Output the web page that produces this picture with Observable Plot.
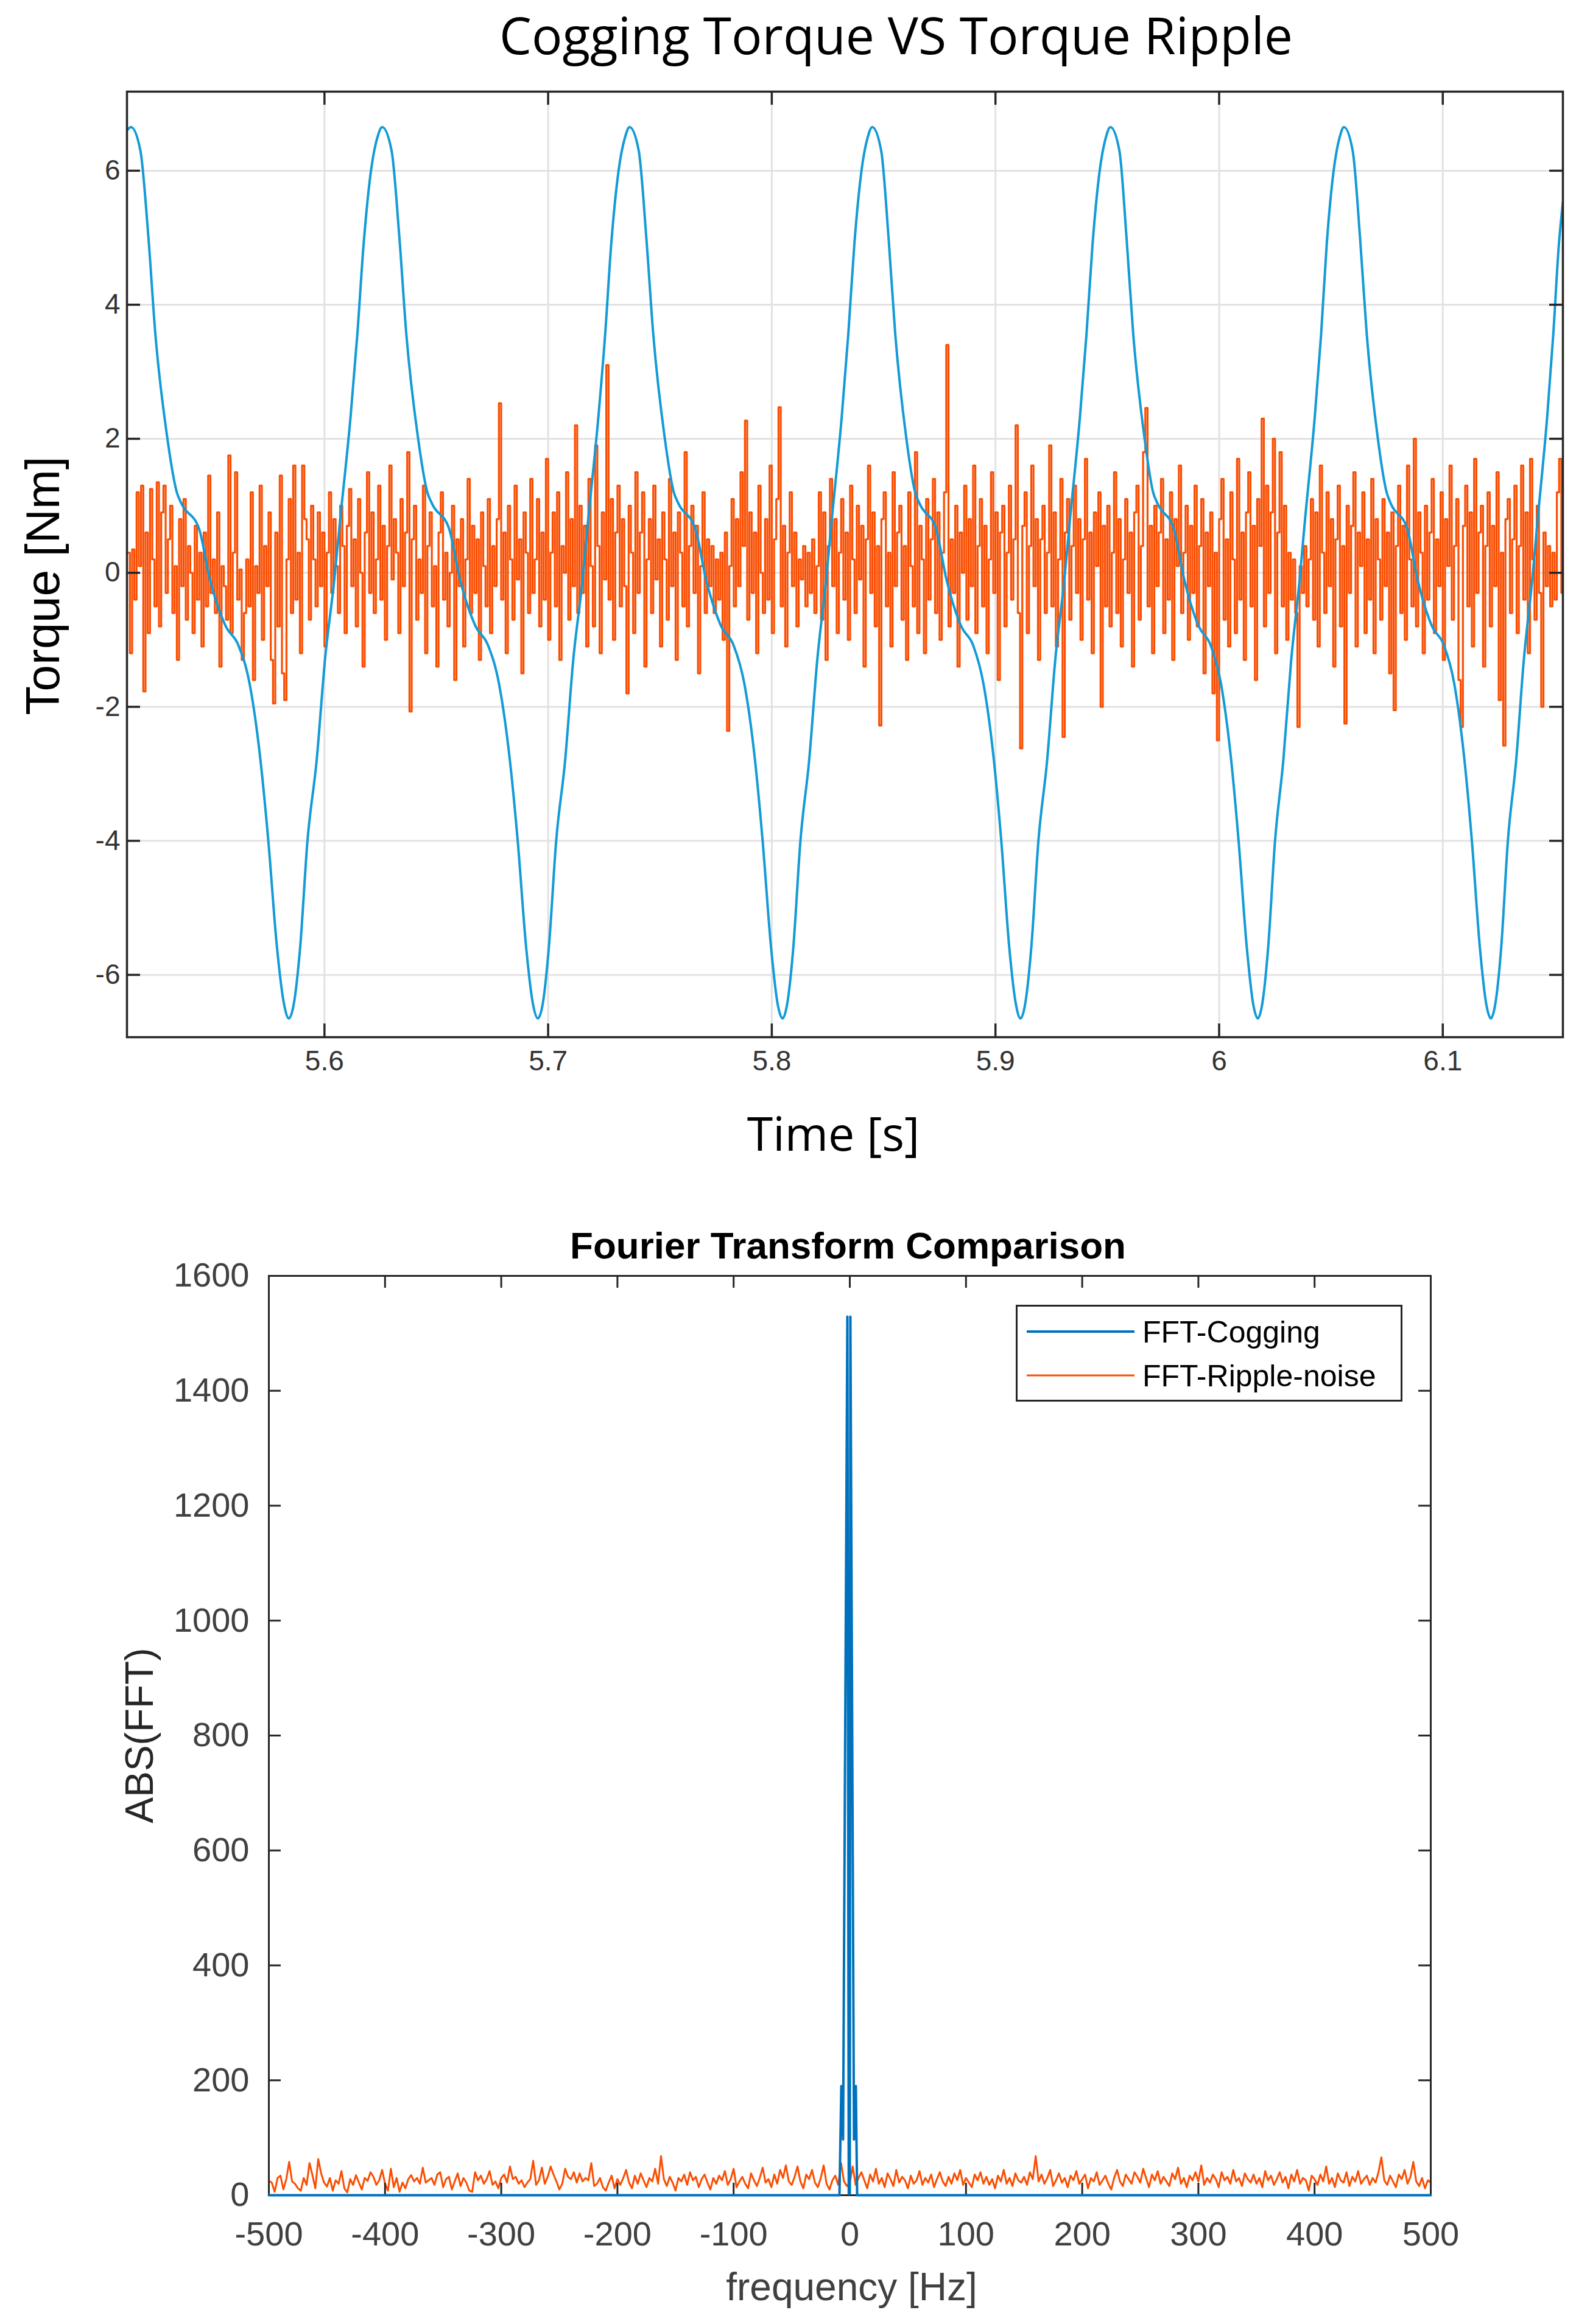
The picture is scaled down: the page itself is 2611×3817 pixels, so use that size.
<!DOCTYPE html>
<html><head><meta charset="utf-8">
<script src="https://cdn.jsdelivr.net/npm/d3@7"></script>
<script src="https://cdn.jsdelivr.net/npm/@observablehq/plot@0.6"></script>
<style>
html,body{margin:0;padding:0;background:#fff;}
#page{position:relative;width:2611px;height:3817px;overflow:hidden;background:#fff;}
#top{position:absolute;left:0;top:0;}
#bottom{position:absolute;left:0;top:1960px;}
#legend{position:absolute;left:1668px;top:2143px;}
</style></head>
<body><div id="page"><div id="top"></div><div id="bottom"></div><div id="legend"></div></div>
<script>
// ---------- Top chart data ----------
const torqueXDomain = [5.5117, 6.1537];
const torqueYDomain = [-6.93, 7.18];
const torqueXTicks = [5.6, 5.7, 5.8, 5.9, 6, 6.1];
const torqueXTickLabels = ["5.6", "5.7", "5.8", "5.9", "6", "6.1"];
const torqueYTicks = [-6, -4, -2, 0, 2, 4, 6];
const torqueYTickLabels = ["-6", "-4", "-2", "0", "2", "4", "6"];

const coggingTime = [
5.5117, 5.5135,
5.5177, 5.5213, 5.5244, 5.5297, 5.5340, 5.5361, 5.5439, 5.5488, 5.5559, 5.5615, 5.5665, 5.5714, 5.5749, 5.5788, 5.5820, 5.5841,
5.5862, 5.5891, 5.5924, 5.5965, 5.6002, 5.6044, 5.6068, 5.6117, 5.6147, 5.6175, 5.6208, 5.6237, 5.6258,
5.6300, 5.6335, 5.6366, 5.6418, 5.6460, 5.6481, 5.6557, 5.6606, 5.6676, 5.6731, 5.6780, 5.6829, 5.6864, 5.6902, 5.6933, 5.6954,
5.6975, 5.7003, 5.7036, 5.7076, 5.7112, 5.7154, 5.7177, 5.7225, 5.7255, 5.7282, 5.7315, 5.7344, 5.7364,
5.7405, 5.7439, 5.7470, 5.7521, 5.7562, 5.7583, 5.7658, 5.7706, 5.7774, 5.7829, 5.7877, 5.7925, 5.7959, 5.7997, 5.8027, 5.8048,
5.8068, 5.8096, 5.8128, 5.8167, 5.8203, 5.8243, 5.8266, 5.8313, 5.8342, 5.8369, 5.8401, 5.8429, 5.8449,
5.8489, 5.8522, 5.8552, 5.8601, 5.8641, 5.8661, 5.8734, 5.8781, 5.8847, 5.8900, 5.8946, 5.8993, 5.9026, 5.9062, 5.9092, 5.9112,
5.9132, 5.9160, 5.9192, 5.9231, 5.9267, 5.9308, 5.9331, 5.9378, 5.9407, 5.9434, 5.9466, 5.9494, 5.9514,
5.9554, 5.9586, 5.9616, 5.9666, 5.9705, 5.9725, 5.9797, 5.9844, 5.9909, 5.9962, 6.0008, 6.0054, 6.0087, 6.0124, 6.0153, 6.0173,
6.0192, 6.0219, 6.0250, 6.0287, 6.0322, 6.0360, 6.0382, 6.0428, 6.0456, 6.0481, 6.0512, 6.0539, 6.0558,
6.0597, 6.0630, 6.0660, 6.0709, 6.0749, 6.0768, 6.0841, 6.0887, 6.0952, 6.1005, 6.1051, 6.1097, 6.1130, 6.1166, 6.1195, 6.1215,
6.1234, 6.1261, 6.1291, 6.1328, 6.1362, 6.1400, 6.1422, 6.1467, 6.1494, 6.1519, 6.1537
];
const coggingTorque = [
6.6, 6.65,
6.3, 5.0, 3.56, 2.02, 1.2, 1.03, 0.66, -0.1, -0.8, -1.08, -1.65, -2.8, -4.0, -5.6, -6.45, -6.65,
-6.45, -5.6, -4.0, -2.8, -1.31, -0.1, 0.72, 2.34, 3.56, 4.9, 6.0, 6.5, 6.65,
6.3, 5.0, 3.56, 2.02, 1.2, 1.03, 0.66, -0.1, -0.8, -1.08, -1.65, -2.8, -4.0, -5.6, -6.45, -6.65,
-6.45, -5.6, -4.0, -2.8, -1.31, -0.1, 0.72, 2.34, 3.56, 4.9, 6.0, 6.5, 6.65,
6.3, 5.0, 3.56, 2.02, 1.2, 1.03, 0.66, -0.1, -0.8, -1.08, -1.65, -2.8, -4.0, -5.6, -6.45, -6.65,
-6.45, -5.6, -4.0, -2.8, -1.31, -0.1, 0.72, 2.34, 3.56, 4.9, 6.0, 6.5, 6.65,
6.3, 5.0, 3.56, 2.02, 1.2, 1.03, 0.66, -0.1, -0.8, -1.08, -1.65, -2.8, -4.0, -5.6, -6.45, -6.65,
-6.45, -5.6, -4.0, -2.8, -1.31, -0.1, 0.72, 2.34, 3.56, 4.9, 6.0, 6.5, 6.65,
6.3, 5.0, 3.56, 2.02, 1.2, 1.03, 0.66, -0.1, -0.8, -1.08, -1.65, -2.8, -4.0, -5.6, -6.45, -6.65,
-6.45, -5.6, -4.0, -2.8, -1.31, -0.1, 0.72, 2.34, 3.56, 4.9, 6.0, 6.5, 6.65,
6.3, 5.0, 3.56, 2.02, 1.2, 1.03, 0.66, -0.1, -0.8, -1.08, -1.65, -2.8, -4.0, -5.6, -6.45, -6.65,
-6.45, -5.6, -4.0, -2.8, -1.31, -0.1, 0.72, 2.34, 3.56, 4.9, 5.53
];

// Torque ripple (orange), 1 ms samples starting at 5.512 s
const rippleStart = 5.512;
const rippleStep = 0.001;
const rippleTorque = [
0.3, -1.2, 0.35, -0.4, 1.2, 0.1, 1.3, -1.77, 0.6, -0.9, 1.25, 0.2, -0.5, 1.35, -0.8, 0.9, 1.3, -0.3, 0.5, 1.0,
-0.6, 0.1, -1.3, 0.8, -0.2, 1.1, -0.7, 0.4, 0.0, -0.9, 0.7, -0.4, 0.3, -1.1, 0.6, -0.5, 1.45, -0.3, 0.2, -0.6,
0.9, -1.4, 0.1, -0.2, -0.7, 1.75, -0.9, 0.3, 1.5, -0.4, 0.05, -1.3, -0.6, 0.2, -0.5, 1.2, -1.6, 0.1, -0.3, 1.3,
-1.0, 0.4, -0.2, 0.9, -1.3, -1.95, 0.6, -0.8, 1.45, -1.5, -1.9, 0.2, 1.1, -0.6, 1.6, -0.4, 0.3, -1.2, 1.6, 0.8,
0.5, -0.7, 1.0, 0.2, -0.5, 0.9, -0.2, 0.6, -1.1, 0.3, 1.2, -0.3, 0.8, 0.1, -0.6, 1.0, 0.4, -0.9, 0.7, 1.25,
-0.2, 0.5, -0.8, 1.1, 0.0, -1.4, 0.6, 1.5, -0.3, 0.9, -0.6, 0.2, 1.3, -0.4, 0.7, -1.0, 0.4, 1.6, -0.1, 0.8,
0.3, -0.9, 1.1, -0.2, 0.6, 1.8, -2.07, 0.5, 1.0, -0.7, 0.2, -0.3, 1.3, -1.2, 0.4, 0.9, -0.5, 0.1, -1.4, 0.6,
1.2, -0.4, 0.3, -0.8, 0.0, 1.0, -1.6, 0.5, -0.2, 0.8, -1.1, 0.2, 1.4, -0.6, 0.7, -0.3, 0.5, -1.3, 0.9, 0.1,
-0.5, 1.1, -0.9, 0.4, -0.2, 0.8, 2.53, -0.4, 0.6, -1.2, 1.0, 0.2, -0.7, 1.3, -0.1, 0.5, -1.5, 0.9, 0.3, -0.6,
1.4, -0.3, 0.2, 1.1, -0.8, 0.6, -0.4, 1.7, -1.0, 0.3, 0.9, -0.5, 1.2, -1.3, 0.4, 0.0, 1.5, -0.7, 0.8, -0.2,
2.2, -0.6, 1.0, -0.3, 0.7, -1.1, 1.4, 0.1, -0.8, 1.9, 0.4, -1.2, 0.9, -0.1, 3.1, -0.4, 1.1, -1.0, 0.6, 1.3,
-0.5, 0.8, -0.2, -1.8, 1.0, 0.3, -0.9, 1.5, -0.3, 0.6, 1.2, -1.4, 0.2, 0.8, -0.6, 1.3, -0.1, 0.5, -1.1, 0.9,
0.2, -0.7, 1.4, -0.2, 0.6, -1.3, 0.9, 0.3, -0.5, 1.8, -0.8, 0.4, 1.0, -0.3, 0.7, -1.5, 0.1, 1.2, -0.6, 0.5,
-0.2, 0.4, -0.6, 0.2, -0.4, 0.3, -1.0, 0.6, -2.36, 0.1, 1.1, -0.5, 0.8, -0.2, 1.5, 0.4, 2.27, -0.7, 0.9, -0.3,
0.6, -1.2, 1.3, 0.0, -0.6, 0.8, -0.4, 1.6, -0.9, 0.5, 1.1, 2.47, -0.5, 0.7, -1.1, 0.3, 1.2, -0.2, 0.6, -0.8,
0.2, -0.1, 0.4, -0.5, 0.3, -0.3, 0.5, -0.6, 0.1, 1.2, -0.7, 0.9, -1.3, 0.4, 1.4, -0.2, 0.8, -0.9, 0.3, 1.1,
-0.4, 0.6, -1.0, 1.3, 0.2, -0.6, 1.0, -0.1, 0.7, -1.4, 0.5, 1.6, -0.3, 0.9, -0.8, 0.4, -2.28, 0.8, 1.2, -0.5,
0.3, -1.1, 1.5, -0.2, 0.6, 1.0, -0.7, 0.4, -1.3, 1.2, 0.1, -0.5, 1.8, -0.9, 0.7, 0.2, -1.2, 1.1, -0.4, 0.5,
1.4, -0.6, 0.9, -1.0, 0.3, 1.2, 3.4, -0.8, 0.5, -0.3, 1.0, -1.4, 0.6, 0.0, 1.3, -0.7, 0.8, -0.2, 1.6, -0.9,
0.4, 1.1, -0.5, 0.7, -1.2, 0.2, 1.5, -0.3, 0.9, -1.6, 0.6, 1.0, -0.8, 0.3, 1.3, -0.4, 0.5, 2.2, -0.6, -2.62,
0.7, 1.2, -0.9, 0.4, 1.6, -0.2, 0.8, -1.3, 0.5, 1.0, -0.6, 0.3, 1.9, -0.5, 0.9, -1.1, 0.2, 1.4, -2.45, 0.6,
1.1, -0.7, 0.4, 1.3, -0.3, 0.8, -1.0, 0.5, 1.7, -0.4, 0.6, -1.2, 0.9, 0.1, 1.2, -2.0, 0.7, -0.5, 1.0, -0.8,
0.3, 1.5, -0.6, 0.8, -1.1, 0.2, 1.1, -0.3, 0.6, -1.4, 0.9, 1.3, -0.7, 0.4, 1.8, 2.46, -0.5, 0.7, -1.2, 1.0,
-0.2, 0.6, 1.4, -0.9, 0.5, -0.4, 1.2, -1.3, 0.8, 0.1, 1.6, -0.6, 0.3, 1.0, -1.0, 0.7, -0.3, 1.3, -0.8, 0.4,
1.1, -1.5, 0.6, -0.2, 0.9, -1.8, 0.3, -2.5, 0.8, 1.4, -0.7, 0.5, -1.1, 1.2, 0.2, -0.9, 1.7, -0.4, 0.6, -1.3,
0.9, 1.5, -0.5, 0.7, -1.6, 1.1, 0.4, 2.3, -0.8, 1.3, -0.3, 0.9, 2.0, -1.2, 0.6, 1.8, -0.5, 1.0, -1.0, 0.3,
-0.4, 0.2, -0.6, -2.3, 0.1, -0.3, 0.4, -0.5, 0.2, 1.1, -0.7, 0.9, -1.1, 1.6, 0.3, -0.6, 1.2, -0.2, 0.8, -1.4,
0.5, 1.3, -0.8, 0.4, -2.25, 1.0, -0.3, 0.7, 1.5, -1.1, 0.6, 0.1, 1.2, -0.9, 0.5, -0.4, 1.4, -1.2, 0.8, 0.2,
-0.7, 1.1, -0.2, 0.6, -1.5, 0.9, -2.05, 0.4, 1.3, -0.6, 0.7, -1.0, 1.6, 0.2, -0.5, 2.0, -0.8, 0.9, 0.3, -1.2,
1.0, -0.4, 0.6, 1.4, -0.9, 0.5, -0.2, 1.2, -1.3, 0.8, 0.1, 1.6, -0.7, 0.4, 1.1, -1.6, -2.3, 0.7, 1.3, -0.5,
0.9, -1.1, 1.7, -0.3, 0.6, 1.0, -1.4, 0.4, 1.2, -0.8, 0.7, -0.2, 1.5, -1.9, 0.3, -2.58, 0.8, 1.1, -0.6, 0.5,
1.3, -0.9, 0.4, 1.6, -0.4, 0.9, -1.2, 1.7, 0.2, -0.7, 1.0, -0.3, -2.0, 0.6, -0.2, 0.4, -0.5, 0.3, -0.4, 1.2,
1.7, -0.3
];

// ---------- Bottom chart data ----------
const fftXDomain = [-500, 500];
const fftYDomain = [0, 1600];
const fftXTicks = [-500, -400, -300, -200, -100, 0, 100, 200, 300, 400, 500];
const fftXTickLabels = ["-500", "-400", "-300", "-200", "-100", "0", "100", "200", "300", "400", "500"];
const fftYTicks = [0, 200, 400, 600, 800, 1000, 1200, 1400, 1600];
const fftYTickLabels = ["0", "200", "400", "600", "800", "1000", "1200", "1400", "1600"];

const coggingFftFreq = [-500, -8.9, -7.3, -5.8, -2.1, -0.9, 0.0, 0.5, 3.6, 5.2, 6.3, 500];
const coggingFftAbs  = [0, 0, 190, 97, 1529, 2, 2, 1529, 97, 190, 0, 0];

// Ripple-noise FFT magnitude, 2.5 Hz bins from -500 Hz
const noiseFftStart = -500;
const noiseFftStep = 2.5;
const noiseFftAbs = [
25, 22, 6, 30, 34, 10, 28, 58, 24, 20, 12, 8, 30, 18, 56, 35, 12, 63, 38, 22,
15, 30, 8, 26, 20, 42, 12, 5, 28, 18, 35, 22, 10, 30, 25, 40, 32, 18, 26, 44,
20, 8, 46, 14, 30, 6, 22, 12, 28, 35, 24, 30, 20, 48, 22, 26, 30, 18, 36, 40,
14, 28, 32, 10, 24, 38, 16, 30, 22, 8, 6, 40, 26, 34, 20, 28, 42, 18, 24, 12,
30, 36, 22, 50, 28, 32, 20, 26, 14, 22, 28, 60, 18, 26, 48, 20, 32, 50, 36, 24,
10, 20, 46, 32, 28, 40, 22, 38, 24, 30, 26, 56, 16, 20, 30, 14, 8, 22, 34, 12,
28, 18, 30, 44, 22, 12, 34, 20, 38, 26, 14, 30, 24, 46, 20, 68, 28, 16, 32, 22,
8, 30, 24, 36, 18, 40, 26, 32, 14, 28, 36, 22, 10, 30, 20, 34, 26, 42, 18, 28,
46, 14, 24, 32, 20, 12, 38, 26, 16, 30, 48, 22, 28, 14, 36, 20, 44, 30, 52, 24,
18, 32, 50, 24, 12, 36, 28, 44, 22, 14, 30, 52, 20, 10, 26, 34, 18, 56, 24, 16,
22, 50, 18, 30, 40, 26, 12, 36, 24, 46, 20, 30, 14, 38, 28, 16, 44, 22, 32, 26,
12, 34, 20, 26, 42, 18, 30, 22, 36, 14, 28, 40, 24, 16, 32, 20, 38, 26, 44, 18,
30, 22, 14, 36, 26, 40, 20, 32, 18, 28, 12, 34, 24, 44, 20, 30, 16, 38, 26, 22,
32, 18, 40, 28, 68, 24, 36, 20, 30, 44, 16, 26, 38, 22, 30, 14, 34, 26, 42, 20,
28, 36, 12, 30, 24, 40, 18, 26, 34, 20, 10, 30, 44, 24, 16, 36, 28, 20, 40, 32,
22, 46, 30, 14, 36, 26, 42, 20, 32, 24, 16, 38, 28, 48, 20, 30, 14, 34, 26, 40,
24, 52, 18, 30, 22, 36, 28, 14, 40, 26, 32, 20, 44, 24, 30, 16, 38, 28, 22, 36,
20, 30, 14, 42, 26, 34, 18, 28, 40, 22, 32, 12, 36, 24, 44, 20, 30, 26, 8, 34,
28, 18, 36, 24, 50, 20, 30, 14, 38, 26, 22, 40, 16, 32, 24, 42, 20, 28, 34, 18,
30, 22, 40, 66, 26, 18, 34, 24, 14, 36, 28, 44, 20, 32, 58, 24, 16, 30, 12, 26,
22
];

// ---------- Styles ----------
const BLUE_TOP = "#149bd6";
const BLUE_FFT = "#0072bd";
const ORANGE = "#fa4e02";
const AXIS = "#262626";
const GRID = "#e2e2e2";

// ---------- Build tables ----------
const coggingData = coggingTime.map((t, i) => ({t, v: coggingTorque[i]}));
const rippleData = rippleTorque.map((v, i) => ({t: rippleStart + i * rippleStep, v}));
const cogFftData = coggingFftFreq.map((f, i) => ({f, a: coggingFftAbs[i]}));
const noiseFftData = noiseFftAbs.map((a, i) => ({f: noiseFftStart + i * noiseFftStep, a}));

const centered = {textAnchor: "middle", lineAnchor: "middle"};

// ---------- Top chart ----------
const T = {w: 2611, h: 1960, mt: 150, mb: 257, ml: 208, mr: 45};
const tFW = T.w - T.ml - T.mr, tFH = T.h - T.mt - T.mb, tTick = 22;
const topPlot = Plot.plot({
  width: T.w, height: T.h,
  marginTop: T.mt, marginBottom: T.mb, marginLeft: T.ml, marginRight: T.mr,
  x: {domain: torqueXDomain},
  y: {domain: torqueYDomain},
  style: {background: "white", fontFamily: "Liberation Sans, Arial, sans-serif", color: "#333", overflow: "visible"},
  marks: [
    Plot.gridX(torqueXTicks, {stroke: GRID, strokeOpacity: 1, strokeWidth: 3}),
    Plot.gridY(torqueYTicks, {stroke: GRID, strokeOpacity: 1, strokeWidth: 3}),
    Plot.line(rippleData, {x: "t", y: "v", curve: "step-after", stroke: ORANGE, strokeWidth: 3.2, clip: true}),
    Plot.line(coggingData, {x: "t", y: "v", curve: "monotone-x", stroke: BLUE_TOP, strokeWidth: 4, clip: true}),
    Plot.frame({stroke: AXIS, strokeWidth: 3.5}),
    Plot.ruleX(torqueXTicks, {stroke: AXIS, strokeWidth: 3.5, insetTop: tFH - tTick}),
    Plot.ruleX(torqueXTicks, {stroke: AXIS, strokeWidth: 3.5, insetBottom: tFH - tTick}),
    Plot.ruleY(torqueYTicks, {stroke: AXIS, strokeWidth: 3.5, insetRight: tFW - tTick}),
    Plot.ruleY(torqueYTicks, {stroke: AXIS, strokeWidth: 3.5, insetLeft: tFW - tTick}),
    Plot.axisX(torqueXTicks, {tickSize: 0, tickPadding: 22, fontSize: 46, label: null,
      tickFormat: d => torqueXTickLabels[torqueXTicks.indexOf(d)]}),
    Plot.axisY(torqueYTicks, {tickSize: 0, tickPadding: 11, fontSize: 46, label: null,
      tickFormat: d => torqueYTickLabels[torqueYTicks.indexOf(d)]}),
    Plot.text(["Cogging Torque VS Torque Ripple"], {...centered, text: d => d, frameAnchor: "top", dx: 84, dy: -88,
      fontSize: 84, fontFamily: "Open Sans", fill: "#000"}),
    Plot.text(["Time [s]"], {...centered, text: d => d, frameAnchor: "bottom", dx: -19, dy: 162,
      fontSize: 77, fontFamily: "Open Sans", fill: "#000"}),
    Plot.text(["Torque [Nm]"], {...centered, text: d => d, frameAnchor: "left", rotate: -90, dx: -136, dy: 35,
      fontSize: 78, fontFamily: "Liberation Sans", fill: "#000"})
  ]
});
document.getElementById("top").appendChild(topPlot);

// ---------- Bottom chart ----------
const B = {w: 2611, h: 1857, mt: 135, mb: 212, ml: 441, mr: 262};
const bFW = B.w - B.ml - B.mr, bFH = B.h - B.mt - B.mb, bTick = 20;
const bottomPlot = Plot.plot({
  width: B.w, height: B.h,
  marginTop: B.mt, marginBottom: B.mb, marginLeft: B.ml, marginRight: B.mr,
  x: {domain: fftXDomain},
  y: {domain: fftYDomain},
  style: {background: "white", fontFamily: "Liberation Sans, Arial, sans-serif", color: "#404040", overflow: "visible"},
  marks: [
    Plot.line(noiseFftData, {x: "f", y: "a", stroke: ORANGE, strokeWidth: 3}),
    Plot.frame({stroke: AXIS, strokeWidth: 3}),
    Plot.ruleX(fftXTicks, {stroke: AXIS, strokeWidth: 3, insetTop: bFH - bTick}),
    Plot.ruleX(fftXTicks, {stroke: AXIS, strokeWidth: 3, insetBottom: bFH - bTick}),
    Plot.ruleY(fftYTicks, {stroke: AXIS, strokeWidth: 3, insetRight: bFW - bTick}),
    Plot.ruleY(fftYTicks, {stroke: AXIS, strokeWidth: 3, insetLeft: bFW - bTick}),
    Plot.line(cogFftData, {x: "f", y: "a", stroke: BLUE_FFT, strokeWidth: 4}),
    Plot.axisX(fftXTicks, {tickSize: 0, tickPadding: 43, fontSize: 56, label: null,
      tickFormat: d => fftXTickLabels[fftXTicks.indexOf(d)]}),
    Plot.axisY(fftYTicks, {tickSize: 0, tickPadding: 32, fontSize: 56, label: null,
      tickFormat: d => fftYTickLabels[fftYTicks.indexOf(d)]}),
    Plot.text(["Fourier Transform Comparison"], {...centered, text: d => d, frameAnchor: "top", dx: -3, dy: -48,
      fontSize: 62, fontWeight: "bold", fontFamily: "Liberation Sans", fill: "#000"}),
    Plot.text(["frequency [Hz]"], {...centered, text: d => d, frameAnchor: "bottom", dx: 3, dy: 152,
      fontSize: 64, fontFamily: "Liberation Sans", fill: "#404040"}),
    Plot.text(["ABS(FFT)"], {...centered, text: d => d, frameAnchor: "left", rotate: -90, dx: -211, dy: 0,
      fontSize: 64, fontFamily: "Liberation Sans", fill: "#262626"})
  ]
});
document.getElementById("bottom").appendChild(bottomPlot);

// ---------- Legend (overlay inside the bottom axes) ----------
const legendItems = ["FFT-Cogging", "FFT-Ripple-noise"];
const legendColors = [BLUE_FFT, ORANGE];
const legendWidths = [4, 3];
const ns = "http://www.w3.org/2000/svg";
const lg = document.createElementNS(ns, "svg");
lg.setAttribute("width", 636); lg.setAttribute("height", 160);
const box = document.createElementNS(ns, "rect");
box.setAttribute("x", 1.5); box.setAttribute("y", 1.5);
box.setAttribute("width", 632); box.setAttribute("height", 156);
box.setAttribute("fill", "white"); box.setAttribute("stroke", AXIS); box.setAttribute("stroke-width", 3);
lg.appendChild(box);
legendItems.forEach((name, i) => {
  const yy = 44 + i * 72;
  const ln = document.createElementNS(ns, "line");
  ln.setAttribute("x1", 18); ln.setAttribute("x2", 195);
  ln.setAttribute("y1", yy); ln.setAttribute("y2", yy);
  ln.setAttribute("stroke", legendColors[i]); ln.setAttribute("stroke-width", legendWidths[i]);
  lg.appendChild(ln);
  const tx = document.createElementNS(ns, "text");
  tx.setAttribute("x", 208); tx.setAttribute("y", yy + 18);
  tx.setAttribute("font-family", "Liberation Sans, Arial, sans-serif");
  tx.setAttribute("font-size", 50); tx.setAttribute("fill", "#000");
  tx.textContent = name;
  lg.appendChild(tx);
});
document.getElementById("legend").appendChild(lg);
</script>
</body></html>
